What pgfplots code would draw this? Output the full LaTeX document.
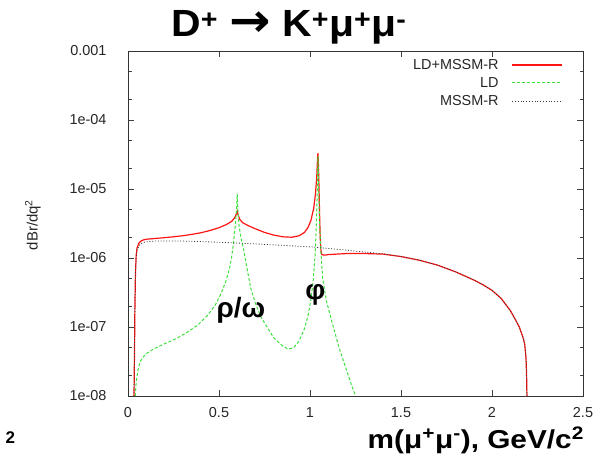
\documentclass[border=0pt]{standalone}
\usepackage{pgfplots}
\pgfplotsset{compat=1.18}
\usepackage{fontspec}
\setmainfont{Liberation Sans}
\newfontfamily\arrowfont{DejaVu Sans}

\definecolor{ldred}{RGB}{255,20,20}
\definecolor{ldgreen}{RGB}{60,225,60}
\definecolor{mssmgray}{RGB}{60,60,60}

\begin{document}
\begin{tikzpicture}
\path[use as bounding box] (0,0) rectangle (609bp,462bp);
\begin{axis}[
  at={(128bp,66bp)}, anchor=south west,
  scale only axis, width=455bp, height=345bp,
  ymode=log, xmin=0, xmax=2.5, ymin=1e-8, ymax=1e-3,
  xtick={0,0.5,1,1.5,2,2.5},
  xticklabels={0,0.5,1,1.5,2,2.5},
  ytick={1e-8,1e-7,1e-6,1e-5,1e-4,1e-3},
  yticklabels={1e-08,1e-07,1e-06,1e-05,1e-04,0.001},
  minor ytick={2e-8,5e-8,2e-7,5e-7,2e-6,5e-6,2e-5,5e-5,2e-4,5e-4},
  tick align=inside, xtick pos=both, ytick pos=both,
  major tick length=6bp, minor tick length=3.5bp,
  tick style={black!75, line width=0.6pt},
  axis line style={black!80, line width=0.9pt},
  ticklabel style={font=\fontsize{14.5}{16}\selectfont, text=black!85},
  /pgf/number format/assume math mode=true,
  yticklabel style={xshift=-18bp},
  xticklabel style={yshift=-8bp},
  legend style={draw=none, fill=none, at={(1,1)}, anchor=north east,
    xshift=-17bp, yshift=-4bp, font=\fontsize{14.5}{16}\selectfont,
    text=black!85, row sep=2.5bp,
    /tikz/every odd column/.append style={column sep=11bp}},
  legend cell align=right,
  legend plot pos=right,
  legend image code/.code={\draw[#1] (0bp,0bp) -- (50bp,0bp);},
]
% LD + MSSM-R
\addplot[ldred, line width=1.2pt] coordinates {
(0.033,1e-8) (0.036,5e-8) (0.038,2e-7) (0.041,6e-7) (0.045,1.1e-6)
(0.05,1.4e-6) (0.06,1.65e-6) (0.07,1.75e-6) (0.085,1.83e-6) (0.1,1.87e-6)
(0.15,1.92e-6) (0.2,1.97e-6) (0.25,2.03e-6) (0.3,2.1e-6) (0.35,2.2e-6)
(0.4,2.32e-6) (0.45,2.5e-6) (0.5,2.75e-6) (0.54,3.05e-6) (0.57,3.4e-6)
(0.585,3.8e-6) (0.595,4.3e-6) (0.6,4.8e-6) (0.605,4.2e-6) (0.615,3.6e-6)
(0.63,3.25e-6) (0.66,2.95e-6) (0.7,2.65e-6) (0.75,2.35e-6) (0.8,2.15e-6)
(0.85,2.03e-6) (0.9,2.0e-6) (0.94,2.1e-6) (0.97,2.35e-6) (0.99,2.8e-6)
(1.005,3.5e-6) (1.02,5.2e-6) (1.03,8.5e-6) (1.037,1.5e-5) (1.042,3.0e-5)
(1.044,3.3e-5) (1.047,2.0e-5) (1.05,9e-6) (1.053,4e-6) (1.056,2e-6)
(1.06,1.3e-6) (1.065,1.12e-6) (1.08,1.1e-6) (1.1,1.12e-6) (1.15,1.14e-6)
(1.2,1.16e-6) (1.25,1.16e-6) (1.3,1.16e-6) (1.35,1.15e-6) (1.4,1.14e-6)
(1.5,1.05e-6) (1.6,9.3e-7) (1.7,7.9e-7) (1.8,6.3e-7) (1.9,4.8e-7)
(1.95,4.1e-7) (2.0,3.4e-7) (2.05,2.6e-7) (2.1,1.74e-7) (2.13,1.26e-7)
(2.15,1.0e-7) (2.17,7.1e-8) (2.18,5.6e-8) (2.187,3.5e-8) (2.19,2e-8)
(2.192,1e-8)
};
\addlegendentry{LD+MSSM-R}
% LD
\addplot[ldgreen, line width=1pt, dash pattern=on 3bp off 2bp] coordinates {
(0.04,1e-8) (0.045,1.6e-8) (0.055,2.4e-8) (0.066,3.1e-8) (0.08,3.6e-8)
(0.1,4.1e-8) (0.14,4.8e-8) (0.2,5.7e-8) (0.26,6.7e-8) (0.32,8.2e-8)
(0.38,1.05e-7) (0.44,1.5e-7) (0.48,2.1e-7) (0.51,3e-7) (0.54,4.8e-7)
(0.56,7.5e-7) (0.57,1.05e-6) (0.58,1.7e-6) (0.59,3e-6) (0.596,5e-6)
(0.6,8.5e-6) (0.604,5e-6) (0.61,3e-6) (0.62,2e-6) (0.635,1.35e-6)
(0.65,8e-7) (0.674,3.7e-7) (0.7,2.2e-7) (0.73,1.4e-7) (0.8,7e-8)
(0.85,5.3e-8) (0.88,4.8e-8) (0.91,5.0e-8) (0.94,6.3e-8) (0.97,9.5e-8)
(0.99,1.5e-7) (1.005,2.5e-7) (1.018,4.8e-7) (1.028,1.1e-6) (1.035,3e-6)
(1.04,1e-5) (1.044,3e-5) (1.048,1e-5) (1.053,3e-6) (1.06,1.2e-6)
(1.07,5e-7) (1.09,2.4e-7) (1.12,1.2e-7) (1.16,5e-8) (1.2,2.4e-8)
(1.23,1.4e-8) (1.25,1e-8)
};
\addlegendentry{LD}
% MSSM-R
\addplot[mssmgray, line width=0.8pt, dash pattern=on 1bp off 1.8bp] coordinates {
(0.033,1e-8) (0.036,5e-8) (0.038,2e-7) (0.041,6e-7) (0.045,1.05e-6)
(0.05,1.3e-6) (0.06,1.5e-6) (0.07,1.6e-6) (0.085,1.68e-6) (0.1,1.72e-6)
(0.15,1.76e-6) (0.2,1.77e-6) (0.3,1.76e-6) (0.4,1.73e-6) (0.5,1.69e-6)
(0.6,1.65e-6) (0.7,1.6e-6) (0.8,1.55e-6) (0.9,1.5e-6) (1.0,1.45e-6)
(1.1,1.38e-6) (1.2,1.3e-6) (1.3,1.22e-6) (1.4,1.15e-6)
(1.5,1.05e-6) (1.6,9.3e-7) (1.7,7.9e-7) (1.8,6.3e-7) (1.9,4.8e-7)
(1.95,4.1e-7) (2.0,3.4e-7) (2.05,2.6e-7) (2.1,1.74e-7) (2.13,1.26e-7)
(2.15,1.0e-7) (2.17,7.1e-8) (2.18,5.6e-8) (2.187,3.5e-8) (2.19,2e-8)
(2.192,1e-8)
};
\addlegendentry{MSSM-R}
% resonance labels
\node[font=\fontsize{28}{30}\selectfont\bfseries] at (axis cs:0.62,1.75e-7) {ρ/ω};
\node[font=\fontsize{28}{30}\selectfont\bfseries] at (axis cs:1.03,2.9e-7) {φ};
\end{axis}
% title, labels
\node[anchor=base, xscale=1.08, font=\fontsize{38}{40}\selectfont\bfseries] at (289bp,425bp)
  {D\textsuperscript{+} {\arrowfont\fontsize{46}{46}\selectfont →} K\textsuperscript{+}μ\textsuperscript{+}μ\textsuperscript{-}};
\node[anchor=base east, xscale=1.15, font=\fontsize{26}{28}\selectfont\bfseries] at (588bp,14bp)
  {m(μ\textsuperscript{+}μ\textsuperscript{-}), GeV/c\textsuperscript{2}};
\node[rotate=90, font=\fontsize{15}{16}\selectfont, text=black!85] at (33bp,237bp)
  {dBr/dq\textsuperscript{2}};
\node[anchor=base west, font=\fontsize{17}{18}\selectfont\bfseries] at (2bp,19bp) {2};
\end{tikzpicture}
\end{document}
